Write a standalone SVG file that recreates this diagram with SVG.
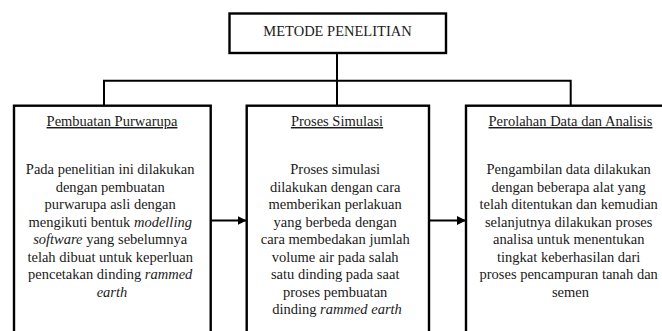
<svg xmlns="http://www.w3.org/2000/svg" width="662" height="331" viewBox="0 0 662 331">
<defs>
<style>
.box{fill:#fff;stroke:#000;stroke-width:2.4}
.con{fill:none;stroke:#000;stroke-width:2}
text{font-size:14.5px;fill:#1a1a1a;text-anchor:middle}
.t{text-decoration:underline}
.i{font-style:italic}
</style>
<marker id="ah" viewBox="0 0 10 10" refX="10" refY="5" markerWidth="4.5" markerHeight="4.5" orient="auto" markerUnits="strokeWidth">
<path d="M0,0 L10,5 L0,10 z" fill="#000"/>
</marker>
</defs>
<rect width="662" height="331" fill="#fff"/>
<g id="connectors">
<path class="con" d="M337,53 V106"/>
<path class="con" d="M104,106 V80.7 H570.7 V106"/>
<path class="con" d="M211,220.5 H246.5" marker-end="url(#ah)"/>
<path class="con" d="M429,220.5 H466" marker-end="url(#ah)"/>
</g>
<g font-family="'Liberation Serif', Tinos, 'DejaVu Serif', serif">
<g id="metode">
<rect class="box" x="229.5" y="13.5" width="216.5" height="39.5"/>
<text x="337.5" y="35.5">METODE PENELITIAN</text>
</g>
<g id="purwarupa">
<rect class="box" x="14" y="105.7" width="196.7" height="240"/>
<text x="112" y="126" class="t">Pembuatan Purwarupa</text>
<text x="112" y="174">
<tspan x="112">Pada penelitian ini dilakukan</tspan>
<tspan x="112" dy="17.5">dengan pembuatan</tspan>
<tspan x="112" dy="17.5">purwarupa asli dengan</tspan>
<tspan x="112" dy="17.5">mengikuti bentuk <tspan class="i">modelling</tspan></tspan>
<tspan x="112" dy="17.5"><tspan class="i">software</tspan> yang sebelumnya</tspan>
<tspan x="112" dy="17.5">telah dibuat untuk keperluan</tspan>
<tspan x="112" dy="17.5">pencetakan dinding <tspan class="i">rammed</tspan></tspan>
<tspan x="112" dy="17.5" class="i">earth</tspan>
</text>
</g>
<g id="simulasi">
<rect class="box" x="246.7" y="105.7" width="182.3" height="240"/>
<text x="337" y="126" class="t">Proses Simulasi</text>
<text x="337" y="174">
<tspan x="337">Proses simulasi</tspan>
<tspan x="337" dy="17.5">dilakukan dengan cara</tspan>
<tspan x="337" dy="17.5">memberikan perlakuan</tspan>
<tspan x="337" dy="17.5">yang berbeda dengan</tspan>
<tspan x="337" dy="17.5">cara membedakan jumlah</tspan>
<tspan x="337" dy="17.5">volume air pada salah</tspan>
<tspan x="337" dy="17.5">satu dinding pada saat</tspan>
<tspan x="337" dy="17.5">proses pembuatan</tspan>
<tspan x="337" dy="17.5">dinding <tspan class="i">rammed earth</tspan></tspan>
</text>
</g>
<g id="analisis">
<rect class="box" x="466" y="105.7" width="220" height="240"/>
<text x="570.5" y="126" class="t">Perolahan Data dan Analisis</text>
<text x="570.5" y="174">
<tspan x="570.5">Pengambilan data dilakukan</tspan>
<tspan x="570.5" dy="17.5">dengan beberapa alat yang</tspan>
<tspan x="570.5" dy="17.5">telah ditentukan dan kemudian</tspan>
<tspan x="570.5" dy="17.5">selanjutnya dilakukan proses</tspan>
<tspan x="570.5" dy="17.5">analisa untuk menentukan</tspan>
<tspan x="570.5" dy="17.5">tingkat keberhasilan dari</tspan>
<tspan x="570.5" dy="17.5">proses pencampuran tanah dan</tspan>
<tspan x="570.5" dy="17.5">semen</tspan>
</text>
</g>
</g>
</svg>
